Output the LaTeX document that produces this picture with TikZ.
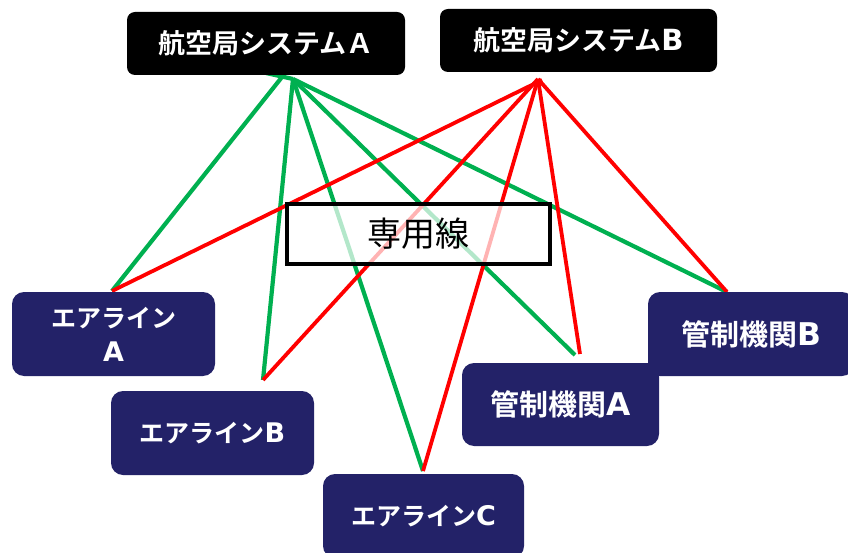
\documentclass[tikz,border=0pt]{standalone}
\usepackage{fontspec}
\newfontfamily\jp{Noto Sans CJK JP}
\newfontfamily\jpb{Noto Sans CJK JP Bold}
\newfontfamily\lat{DejaVu Sans Bold}[Scale=1.08]
\definecolor{navy}{RGB}{35,34,104}
\definecolor{lgreen}{RGB}{0,176,80}
\definecolor{lred}{RGB}{255,0,0}
\begin{document}
\begin{tikzpicture}[x=1pt,y=-1pt,
  topbox/.style={fill=black, rounded corners=8pt, text=white, inner sep=0pt,
    font=\jpb\fontsize{27}{30}\selectfont},
  botbox/.style={fill=navy, rounded corners=12pt, text=white, inner sep=0pt, align=center},
  kana/.style={font=\jpb\fontsize{25}{36}\selectfont},
  kanji/.style={font=\jpb\fontsize{29}{32}\selectfont},
  gline/.style={draw=lgreen, line width=4.2pt},
  rline/.style={draw=lred, line width=3.8pt},
  linebox/.style={fill=white, fill opacity=0.7, text opacity=1, draw=black, draw opacity=1,
    line width=4pt, inner sep=0pt, font=\jp\fontsize{34}{38}\selectfont}]
\useasboundingbox (0,0) rectangle (848,553);

% line end points
\coordinate (gs) at (266,73);
\coordinate (g) at (293,79);
\coordinate (gA) at (282,77);
\coordinate (r) at (538,79);
\coordinate (rA) at (542,80);
\coordinate (eA) at (112,291);
\coordinate (eB) at (263,380);
\coordinate (eC) at (423,471);
\coordinate (eKAg) at (575,355);
\coordinate (eKAr) at (580,354);
\coordinate (eKB) at (727,292);

% green lines
\draw[gline] (gs) -- (g);
\draw[gline] (gA) -- (eA);
\draw[gline] (g) -- (eB);
\draw[gline] (g) -- (eC);
\draw[gline] (g) -- (eKAg);
\draw[gline] (g) -- (eKB);
% red lines
\draw[rline] (rA) -- (eA);
\draw[rline] (r) -- (eB);
\draw[rline] (r) -- (eC);
\draw[rline] (r) -- (eKAr);
\draw[rline] (r) -- (eKB);

% dedicated line box
\node[linebox, minimum width=263pt, minimum height=60pt] (sen) at (418.5,234) {専用線};

% top boxes
\node[topbox, minimum width=278pt, minimum height=63pt] (sysA) at (266,43.5) {航空局システムＡ};
\node[topbox, minimum width=277pt, minimum height=63pt] (sysB) at (578.5,40.5) {航空局システム{\lat B}};

% bottom boxes
\node[botbox, kana, minimum width=203pt, minimum height=84pt] (airA) at (113.5,334) {エアライン\\[-2pt]{\lat A}};
\node[botbox, kana, minimum width=203pt, minimum height=84pt] (airB) at (212.5,433) {エアライン{\lat B}};
\node[botbox, kana, minimum width=201pt, minimum height=84pt] (airC) at (423.5,516) {エアライン{\lat C}};
\node[botbox, kanji, minimum width=197pt, minimum height=83pt] (ctlA) at (560.5,404.5) {管制機関{\lat A}};
\node[botbox, kanji, minimum width=206pt, minimum height=84pt] (ctlB) at (751,334) {管制機関{\lat B}};
\end{tikzpicture}
\end{document}
